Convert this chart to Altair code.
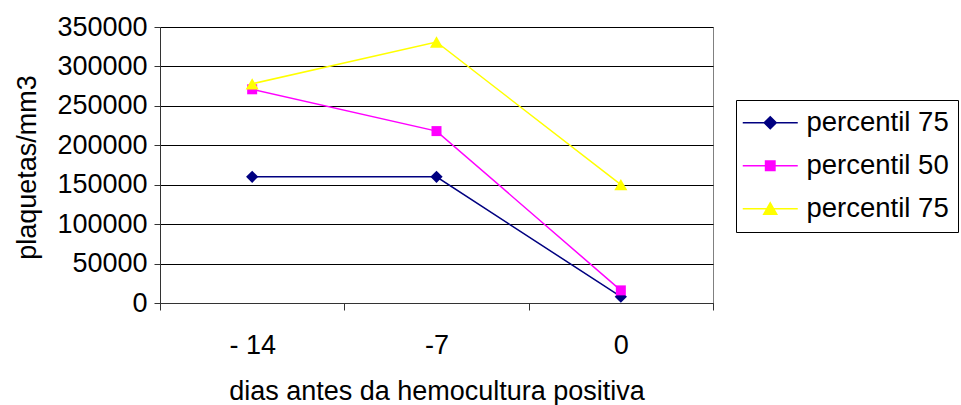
import altair as alt
import pandas as pd

categories = ["- 14", "-7", "0"]
series_keys = ["a", "b", "c"]
series_names = ["percentil 75", "percentil 50", "percentil 75"]
series_colors = ["#000080", "#FF00FF", "#FFFF00"]
values_a = [160000, 160000, 8000]
values_b = [271000, 218000, 16000]
values_c = [278000, 331000, 150000]
y_ticks = [0, 50000, 100000, 150000, 200000, 250000, 300000, 350000]
marker_shapes = ["diamond", "square", "triangle-up"]
marker_sizes = [150, 100, 170]
legend_paths = [
    "M-1.6,0H3.9M1.15,-0.6L1.75,0L1.15,0.6L0.55,0Z",
    "M-1.6,0H3.9M0.68,-0.47H1.62V0.47H0.68Z",
    "M-1.6,0H3.9M1.15,-0.6L1.8,0.55L0.5,0.55Z",
]

rows = []
for key, vals in zip(series_keys, [values_a, values_b, values_c]):
    for c, v in zip(categories, vals):
        rows.append({"key": key, "cat": c, "value": v})
df = pd.DataFrame(rows)

FONT = "Liberation Sans"
FS = 27
PAD = "\u00a0" * 6

label_expr = " : ".join(
    f"datum.label == '{k}' ? '{n}{PAD}'" for k, n in zip(series_keys[:-1], series_names[:-1])
) + f" : '{series_names[-1]}{PAD}'"

x_enc = alt.X(
    "cat:N",
    sort=categories,
    scale=alt.Scale(type="band", paddingInner=0, paddingOuter=0),
    axis=alt.Axis(
        title="dias antes da hemocultura positiva",
        labelAngle=0,
        tickBand="extent",
        tickSize=7,
        tickColor="#333333",
        domainColor="#333333",
        labelPadding=22,
        labelFont=FONT,
        labelFontSize=FS,
        labelColor="black",
        titleFont=FONT,
        titleFontSize=FS,
        titleFontWeight="normal",
        titleColor="black",
        titleY=96,
        titleBaseline="alphabetic",
        grid=False,
    ),
)
y_enc = alt.Y(
    "value:Q",
    scale=alt.Scale(domain=[0, 350000], nice=False, zero=True),
    axis=alt.Axis(
        title="plaquetas/mm3",
        values=y_ticks,
        format="d",
        tickSize=6,
        tickColor="#333333",
        domainColor="#333333",
        labelPadding=7,
        labelFont=FONT,
        labelFontSize=FS,
        labelColor="black",
        titleFont=FONT,
        titleFontSize=FS,
        titleFontWeight="normal",
        titleColor="black",
        titleX=-125,
        titleY=140,
        titleAngle=270,
        titleBaseline="alphabetic",
        grid=True,
        gridColor="black",
        gridWidth=1,
        gridOpacity=1,
    ),
)

base = alt.Chart(df)
layers = []
for key, color, shape, size in zip(series_keys, series_colors, marker_shapes, marker_sizes):
    sub = base.transform_filter(alt.datum.key == key)
    layers.append(
        sub.mark_line(strokeWidth=1.5, color=color).encode(x=x_enc, y=y_enc)
    )
    layers.append(
        sub.mark_point(filled=True, shape=shape, size=size, color=color, opacity=1).encode(
            x=x_enc, y=y_enc
        )
    )

legend = alt.Legend(
    title=None,
    orient="none",
    legendX=576,
    legendY=73,
    padding=9,
    strokeColor="black",
    fillColor="white",
    labelFont=FONT,
    labelFontSize=27.5,
    labelColor="black",
    labelOffset=34,
    labelExpr=label_expr,
    symbolSize=400,
    symbolStrokeWidth=1.5,
    symbolOpacity=1,
    rowPadding=14,
)

legend_layer = base.transform_filter("false").mark_point(filled=False).encode(
    x=x_enc,
    y=y_enc,
    stroke=alt.Stroke("key:N", scale=alt.Scale(domain=series_keys, range=series_colors), legend=legend),
    fill=alt.Fill("key:N", scale=alt.Scale(domain=series_keys, range=series_colors), legend=legend),
    shape=alt.Shape("key:N", scale=alt.Scale(domain=series_keys, range=legend_paths), legend=legend),
)
layers.append(legend_layer)

chart = (
    alt.layer(*layers)
    .properties(
        width=553,
        height=276,
        autosize=alt.AutoSizeParams(type="none"),
        padding={"left": 160, "top": 27, "right": 248, "bottom": 102},
        background="white",
    )
    .configure_view(stroke="#808080", strokeWidth=1)
)

chart.save("out.html", embed_options={"renderer": "svg", "actions": False})
